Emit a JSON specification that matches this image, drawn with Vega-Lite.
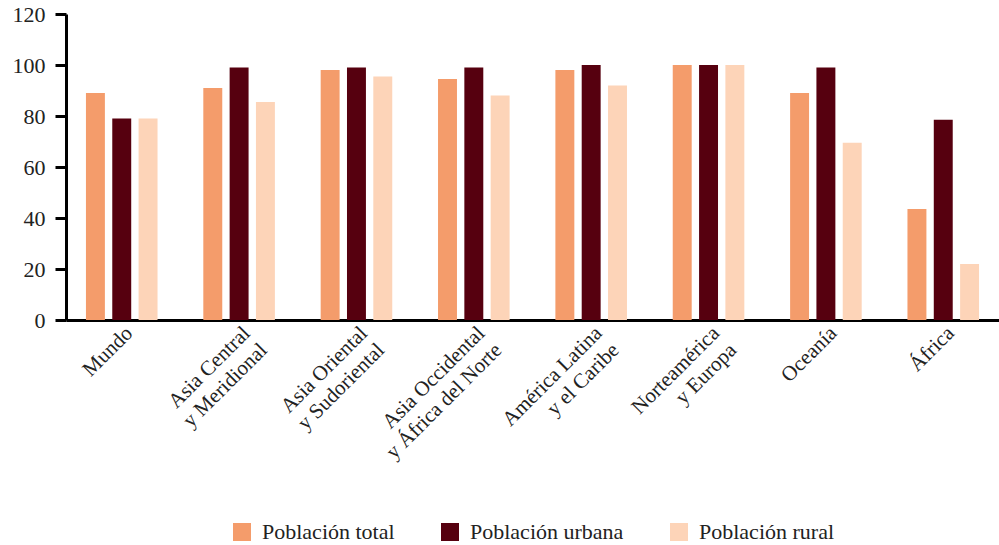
{
  "$schema": "https://vega.github.io/schema/vega-lite/v6.json",
  "width": 933,
  "height": 306,
  "autosize": {"type": "none"},
  "padding": {"left": 66, "top": 14, "right": 0, "bottom": 225},
  "background": "white",
  "config": {
    "font": "Liberation Serif",
    "view": {"stroke": null},
    "axis": {"labelColor": "#222222", "labelFont": "Liberation Serif"},
    "legend": {"labelFont": "Liberation Serif", "layout": {"bottom": {"anchor": "middle"}}}
  },
  "data": {
    "values": [
      {"region": "Mundo", "serie": "Población total", "valor": 89},
      {"region": "Mundo", "serie": "Población urbana", "valor": 79},
      {"region": "Mundo", "serie": "Población rural", "valor": 79},
      {"region": "Asia Central y Meridional", "serie": "Población total", "valor": 91},
      {"region": "Asia Central y Meridional", "serie": "Población urbana", "valor": 99},
      {"region": "Asia Central y Meridional", "serie": "Población rural", "valor": 85.5},
      {"region": "Asia Oriental y Sudoriental", "serie": "Población total", "valor": 98},
      {"region": "Asia Oriental y Sudoriental", "serie": "Población urbana", "valor": 99},
      {"region": "Asia Oriental y Sudoriental", "serie": "Población rural", "valor": 95.5},
      {"region": "Asia Occidental y África del Norte", "serie": "Población total", "valor": 94.5},
      {"region": "Asia Occidental y África del Norte", "serie": "Población urbana", "valor": 99},
      {"region": "Asia Occidental y África del Norte", "serie": "Población rural", "valor": 88},
      {"region": "América Latina y el Caribe", "serie": "Población total", "valor": 98},
      {"region": "América Latina y el Caribe", "serie": "Población urbana", "valor": 100},
      {"region": "América Latina y el Caribe", "serie": "Población rural", "valor": 92},
      {"region": "Norteamérica y Europa", "serie": "Población total", "valor": 100},
      {"region": "Norteamérica y Europa", "serie": "Población urbana", "valor": 100},
      {"region": "Norteamérica y Europa", "serie": "Población rural", "valor": 100},
      {"region": "Oceanía", "serie": "Población total", "valor": 89},
      {"region": "Oceanía", "serie": "Población urbana", "valor": 99},
      {"region": "Oceanía", "serie": "Población rural", "valor": 69.5},
      {"region": "África", "serie": "Población total", "valor": 43.5},
      {"region": "África", "serie": "Población urbana", "valor": 78.5},
      {"region": "África", "serie": "Población rural", "valor": 22}
    ]
  },
  "mark": {"type": "bar"},
  "encoding": {
    "x": {
      "field": "region",
      "type": "nominal",
      "sort": null,
      "scale": {"paddingInner": 0.39, "paddingOuter": 0.17},
      "axis": {
        "title": null,
        "ticks": false,
        "domainColor": "#000000",
        "domainWidth": 3,
        "labelAngle": -45,
        "labelAlign": "right",
        "labelBaseline": "top",
        "labelFont": "Liberation Serif",
        "labelFontSize": 21,
        "labelPadding": 2,
        "labelLineHeight": 24,
        "labelLimit": 300,
        "labelExpr": "indexof(datum.label, ' y ') >= 0 ? [slice(datum.label, 0, indexof(datum.label, ' y ')), slice(datum.label, indexof(datum.label, ' y ') + 1)] : datum.label"
      }
    },
    "xOffset": {
      "field": "serie",
      "type": "nominal",
      "sort": ["Población total", "Población urbana", "Población rural"],
      "scale": {"paddingInner": 0.28, "paddingOuter": 0}
    },
    "y": {
      "field": "valor",
      "type": "quantitative",
      "scale": {"domain": [0, 120], "nice": false},
      "axis": {
        "title": null,
        "values": [0, 20, 40, 60, 80, 100, 120],
        "grid": false,
        "domainColor": "#000000",
        "domainWidth": 3,
        "tickColor": "#000000",
        "tickWidth": 3,
        "tickSize": 11,
        "labelFont": "Liberation Serif",
        "labelFontSize": 22,
        "labelPadding": 10
      }
    },
    "color": {
      "field": "serie",
      "type": "nominal",
      "scale": {
        "domain": ["Población total", "Población urbana", "Población rural"],
        "range": ["#F49C6B", "#56000F", "#FDD4B8"]
      },
      "legend": {
        "title": null,
        "orient": "bottom",
        "direction": "horizontal",
        "symbolType": "square",
        "symbolSize": 324,
        "symbolStrokeWidth": 0,
        "labelFont": "Liberation Serif",
        "labelFontSize": 22,
        "labelLimit": 300,
        "labelColor": "#222222",
        "labelOffset": 9,
        "columnPadding": 44,
        "offset": 58
      }
    }
  }
}
